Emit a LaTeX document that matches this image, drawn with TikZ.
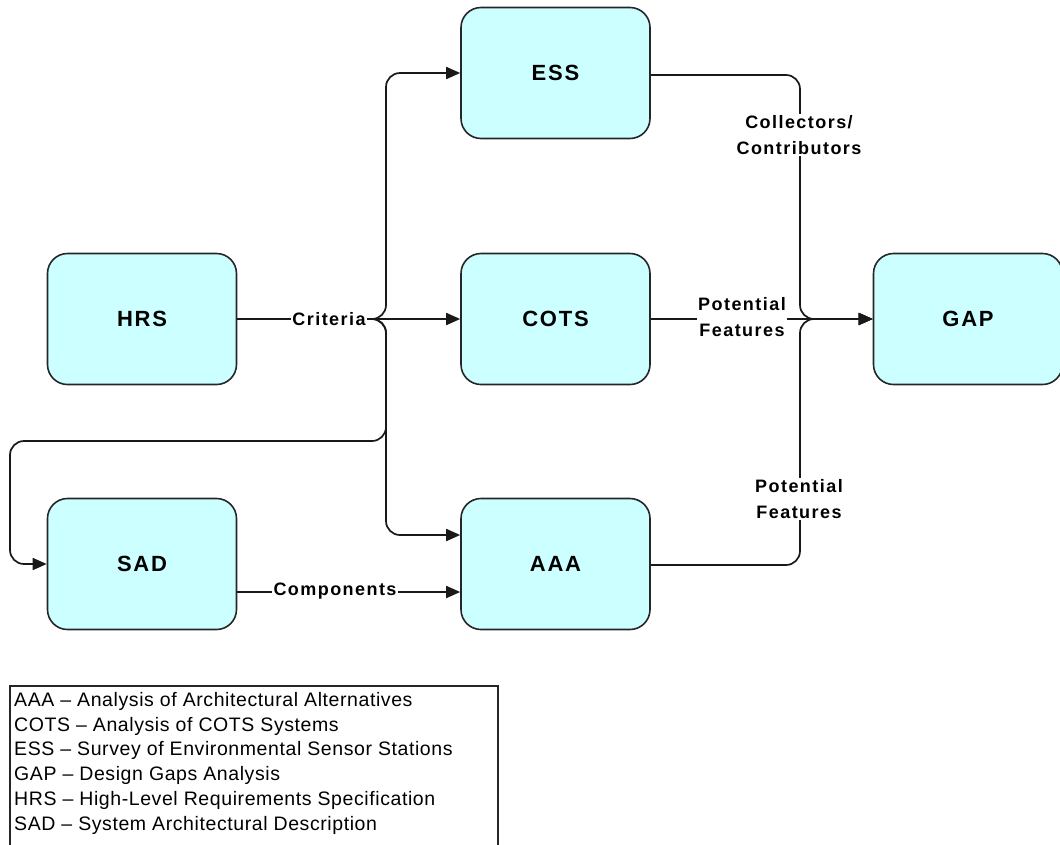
\documentclass[tikz,border=0pt]{standalone}
\usepackage{fontspec}
\setmainfont{Liberation Sans}
\usetikzlibrary{arrows.meta,calc}
\definecolor{boxfill}{HTML}{CCFFFF}
\begin{document}
\begin{tikzpicture}[x=1pt,y=-1pt,
  box/.style={draw=black!85, line width=1.6pt, fill=boxfill, rounded corners=20pt,
    minimum width=189pt, minimum height=131pt, inner sep=0pt,
    font=\fontsize{22}{26}\selectfont\bfseries\addfontfeature{LetterSpace=8}},
  conn/.style={line width=1.7pt, draw=black!90, rounded corners=14pt},
  arr/.style={conn, -{Triangle[length=14pt,width=12pt]}},
  lbl/.style={fill=white, inner sep=1.5pt, align=center,
    font=\fontsize{18}{25.5}\selectfont\bfseries\addfontfeature{LetterSpace=8}}
]
\useasboundingbox (0,0) rectangle (1060,844);

\node[box] (ESS)  at (555.5,73)  {ESS};
\node[box] (HRS)  at (142,319) {HRS};
\node[box] (COTS) at (555.5,319) {COTS};
\node[box] (GAP)  at (968,319) {GAP};
\node[box] (SAD)  at (142,564) {SAD};
\node[box] (AAA)  at (555.5,564) {AAA};

\coordinate (J) at (372,319);
\coordinate (V) at (386,319);
\coordinate (L) at (10,441);
\coordinate (R) at (800,319);

% left fan-out
\draw[arr] (HRS.east) -- (J) -- (V) |- (ESS.west);
\draw[arr] (HRS.east) -- (COTS.west);
\draw[arr] (HRS.east) -- (J) -- (V) |- ($(AAA.west)+(0,-29)$);
\draw[arr] (HRS.east) -- (J) -- (V) |- (L) |- (SAD.west);
\draw[arr] ($(SAD.east)+(0,28)$) -- ($(AAA.west)+(0,28)$);

% right fan-in
\draw[arr] ($(ESS.east)+(0,2)$) -| (R) -- (GAP.west);
\draw[arr] (COTS.east) -- (GAP.west);
\draw[arr] ($(AAA.east)+(0,1)$) -| (R) -- (GAP.west);

% labels
\node[lbl] (lcrit) at (329,319) {Criteria};
\node[lbl] (lcomp) at (335,591) {Components};
\node[lbl] (lpf1) at (742,317) {Potential\\Features};
\node[lbl] (lcc) at (799,135) {Collectors/\\Contributors};
\node[lbl] (lpf2) at (799,499) {Potential\\Features};

% legend
\draw[line width=1.3pt, draw=black!85] (10,686) rectangle (498,900);
\node[anchor=north west, align=left, inner sep=0pt,
  font=\fontsize{19.5}{24.8}\selectfont\addfontfeature{LetterSpace=3}] (legend) at (14,692) {%
AAA -- Analysis of Architectural Alternatives\\
COTS -- Analysis of COTS Systems\\
ESS -- Survey of Environmental Sensor Stations\\
GAP -- Design Gaps Analysis\\
HRS -- High-Level Requirements Specification\\
SAD -- System Architectural Description};
\end{tikzpicture}
\end{document}
